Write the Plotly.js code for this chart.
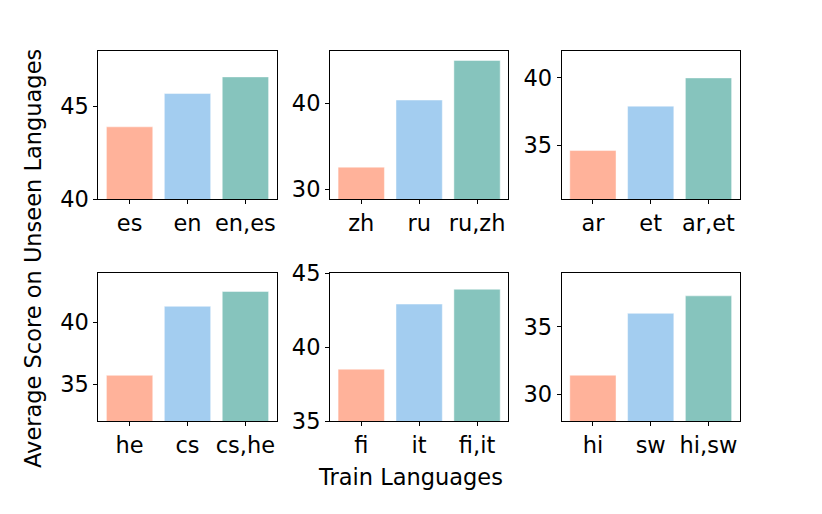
<!DOCTYPE html>
<html>
<head>
<meta charset="utf-8">
<script src="https://cdn.plot.ly/plotly-3.0.1.min.js"></script>
<style>html,body{margin:0;padding:0;background:#fff;}#chart{width:822px;height:514px;}</style>
</head>
<body>
<div id="chart"></div>
<script>
// Data
const panel1Labels = ["es", "en", "en,es"];
const panel1Scores = [43.9, 45.7, 46.6];
const panel2Labels = ["zh", "ru", "ru,zh"];
const panel2Scores = [32.6, 40.4, 45.0];
const panel3Labels = ["ar", "et", "ar,et"];
const panel3Scores = [34.6, 37.9, 40.0];
const panel4Labels = ["he", "cs", "cs,he"];
const panel4Scores = [35.7, 41.3, 42.5];
const panel5Labels = ["fi", "it", "fi,it"];
const panel5Scores = [38.5, 42.9, 43.9];
const panel6Labels = ["hi", "sw", "hi,sw"];
const panel6Scores = [31.4, 36.0, 37.3];

const xTitle = "Train Languages";
const yTitle = "Average Score on Unseen Languages";

const barColors = ["#FFB29A", "#A3CDF0", "#86C4BD"];

const panels = [
  {labels: panel1Labels, scores: panel1Scores, yr: [40, 48], dt: 5},
  {labels: panel2Labels, scores: panel2Scores, yr: [28.9, 46.1], dt: 10},
  {labels: panel3Labels, scores: panel3Scores, yr: [31, 42], dt: 5},
  {labels: panel4Labels, scores: panel4Scores, yr: [32, 44], dt: 5},
  {labels: panel5Labels, scores: panel5Scores, yr: [35, 45], dt: 5},
  {labels: panel6Labels, scores: panel6Scores, yr: [28, 39], dt: 5}
];

const W = 822, H = 514;
const colsPx = [[98.3, 276.7], [330, 508.3], [561.7, 739.7]];
const rowsPx = [[51, 199], [273, 421]];

const font = {family: "DejaVu Sans, sans-serif", size: 22.5, color: "#000"};
const traces = [];
const layout = {
  width: W, height: H,
  margin: {l: 0, r: 0, t: 0, b: 0},
  paper_bgcolor: "#fff", plot_bgcolor: "#fff",
  showlegend: false,
  font: font,
  annotations: [
    {text: xTitle, xref: "paper", yref: "paper", x: 410 / W, y: 1 - 477 / H,
     xanchor: "center", yanchor: "middle", showarrow: false, font: font},
    {text: yTitle, xref: "paper", yref: "paper", x: 33 / W, y: 1 - 259 / H,
     xanchor: "center", yanchor: "middle", showarrow: false, textangle: -90, font: font}
  ]
};

panels.forEach((p, i) => {
  const r = Math.floor(i / 3), c = i % 3;
  const n = i + 1;
  const xa = n === 1 ? "xaxis" : "xaxis" + n;
  const ya = n === 1 ? "yaxis" : "yaxis" + n;
  const idx = p.labels.map((_, k) => k);
  traces.push({
    type: "bar",
    x: idx, y: p.scores,
    width: 0.8,
    marker: {color: barColors, line: {width: 1, color: "rgba(255,255,255,0.45)"}},
    xaxis: "x" + (n === 1 ? "" : n),
    yaxis: "y" + (n === 1 ? "" : n),
    hoverinfo: "x+y"
  });
  layout[xa] = {
    domain: [colsPx[c][0] / W, colsPx[c][1] / W],
    anchor: "y" + (n === 1 ? "" : n),
    range: [-0.54, 2.54],
    tickvals: idx, ticktext: p.labels,
    ticks: "outside", ticklen: 4, tickwidth: 1, tickcolor: "#000",
    showline: true, linecolor: "#000", linewidth: 1, mirror: true,
    showgrid: false, zeroline: false,
    tickfont: font, fixedrange: true
  };
  layout[ya] = {
    domain: [1 - rowsPx[r][1] / H, 1 - rowsPx[r][0] / H],
    anchor: "x" + (n === 1 ? "" : n),
    range: p.yr, dtick: p.dt, tick0: 0,
    ticks: "outside", ticklen: 4, tickwidth: 1, tickcolor: "#000",
    showline: true, linecolor: "#000", linewidth: 1, mirror: true,
    showgrid: false, zeroline: false,
    tickfont: font, fixedrange: true
  };
});

Plotly.newPlot("chart", traces, layout, {displayModeBar: false, staticPlot: true});
</script>
</body>
</html>
